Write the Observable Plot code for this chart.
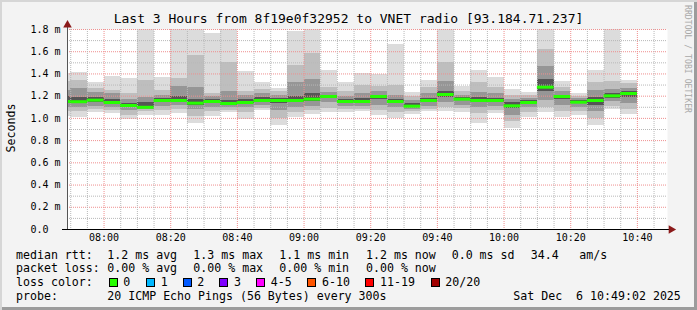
<!DOCTYPE html>
<html><head><meta charset="utf-8">
<script src="https://cdn.jsdelivr.net/npm/d3@7"></script>
<script src="https://cdn.jsdelivr.net/npm/@observablehq/plot@0.6"></script>
<style>
html,body{margin:0;padding:0;background:#f3f3f3;}
#wrap{position:relative;width:697px;height:310px;background:#f3f3f3;overflow:hidden;
  box-shadow: inset 2px 2px 0 #d6d6d6, inset -3px -3px 0 #9c9c9c;
  font-family:"DejaVu Sans Mono",monospace;color:#000;}
.t{position:absolute;white-space:pre;font-size:11.6px;line-height:14px;height:14px;}
.box{position:absolute;width:9px;height:9px;box-sizing:border-box;border:1px solid #000;}
#chart{position:absolute;left:0;top:0;}
</style></head>
<body><div id="wrap"><div id="chart"></div></div>
<script>
// ---------- data ----------
const titleText = "Last 3 Hours from 8f19e0f32952 to VNET radio [93.184.71.237]";
const yAxisTitle = "Seconds";
const watermark = "RRDTOOL / TOBI OETIKER";
const windowStart = "07:49:02";
const windowEnd = "10:49:02";
const barStart = ["07:45","07:50","07:55","08:00","08:05","08:10","08:15","08:20","08:25","08:30","08:35","08:40",
  "08:45","08:50","08:55","09:00","09:05","09:10","09:15","09:20","09:25","09:30","09:35","09:40","09:45","09:50",
  "09:55","10:00","10:05","10:10","10:15","10:20","10:25","10:30","10:35"];
// rtt in ms
const minV = [1.02,1.005,1.056,1.04,0.987,1.026,1.026,1.04,0.957,1.02,1.05,0.993,1.07,0.936,1.01,1.035,1.056,1.056,
  1.06,1.026,0.996,1.035,1.06,1.065,1.056,0.957,1.044,0.912,1.005,1.056,1.01,1.026,0.933,1.077,1.035];
const p10V = [1.06,1.06,1.08,1.07,1.03,1.06,1.07,1.08,1.02,1.06,1.07,1.05,1.09,1.00,1.05,1.07,1.09,1.08,
  1.08,1.07,1.05,1.06,1.08,1.10,1.09,1.04,1.07,0.97,1.05,1.10,1.06,1.06,1.00,1.11,1.08];
const p25V = [1.10,1.10,1.11,1.10,1.07,1.08,1.11,1.12,1.08,1.10,1.10,1.10,1.12,1.07,1.10,1.11,1.14,1.11,
  1.11,1.12,1.10,1.08,1.11,1.14,1.12,1.10,1.11,1.03,1.10,1.16,1.12,1.10,1.06,1.15,1.13];
const p40V = [1.13,1.13,1.14,1.125,1.10,1.09,1.14,1.15,1.12,1.13,1.12,1.13,1.145,1.13,1.14,1.15,1.18,1.14,
  1.14,1.17,1.14,1.10,1.14,1.19,1.16,1.14,1.14,1.09,1.13,1.24,1.17,1.13,1.12,1.18,1.19];
const medianV = [1.152,1.15,1.164,1.143,1.116,1.10,1.161,1.161,1.137,1.152,1.134,1.143,1.161,1.161,1.161,1.173,1.197,1.152,
  1.152,1.197,1.152,1.11,1.161,1.215,1.173,1.161,1.161,1.113,1.143,1.281,1.197,1.146,1.161,1.203,1.224];
const p60V = [1.20,1.19,1.19,1.17,1.13,1.14,1.18,1.20,1.17,1.17,1.16,1.17,1.19,1.18,1.20,1.22,1.21,1.17,
  1.18,1.21,1.17,1.13,1.18,1.24,1.19,1.19,1.18,1.14,1.16,1.35,1.21,1.16,1.19,1.22,1.24];
const p75V = [1.25,1.27,1.23,1.22,1.17,1.19,1.21,1.29,1.28,1.20,1.24,1.21,1.22,1.21,1.32,1.35,1.23,1.20,
  1.22,1.24,1.21,1.16,1.22,1.33,1.21,1.23,1.22,1.17,1.18,1.47,1.24,1.18,1.25,1.26,1.27];
const p90V = [1.33,1.34,1.27,1.25,1.22,1.34,1.25,1.36,1.57,1.22,1.50,1.24,1.26,1.24,1.48,1.58,1.28,1.24,
  1.30,1.29,1.30,1.20,1.28,1.50,1.24,1.32,1.28,1.21,1.21,1.62,1.28,1.20,1.32,1.33,1.31];
const maxV = [1.40,1.416,1.32,1.38,1.359,1.8,1.371,1.8,1.8,1.76,1.8,1.422,1.32,1.266,1.785,1.8,1.431,1.32,
  1.40,1.395,1.665,1.236,1.341,1.8,1.29,1.431,1.371,1.26,1.236,1.8,1.332,1.225,1.431,1.8,1.341];

const yTicks = [0,0.2,0.4,0.6,0.8,1.0,1.2,1.4,1.6,1.8];
const yTickLabels = ["0.0","0.2 m","0.4 m","0.6 m","0.8 m","1.0 m","1.2 m","1.4 m","1.6 m","1.8 m"];
const xTickLabels = ["08:00","08:20","08:40","09:00","09:20","09:40","10:00","10:20","10:40"];

const legendHeads = ["median rtt:","packet loss:","loss color:","probe:"];
const rttStats = ["1.2 ms avg","1.3 ms max","1.1 ms min","1.2 ms now","0.0 ms sd","34.4","am/s"];
const lossStats = ["0.00 % avg","0.00 % max","0.00 % min","0.00 % now"];
const lossLabels = ["0","1","2","3","4-5","6-10","11-19","20/20"];
const lossColors = ["#26ff00","#00b8ff","#0059ff","#7e00ff","#ff00ff","#ff5500","#ff0000","#a10000"];
const probeText = "20 ICMP Echo Pings (56 Bytes) every 300s";
const dateText = "Sat Dec  6 10:49:02 2025";

// ---------- helpers ----------
const FONT = "DejaVu Sans Mono";
const toDate = s => { const [h,m,sec] = s.split(":").map(Number); return new Date(Date.UTC(2025,11,6,h,m,sec||0)); };
const STEP = 300000;
const xStart = toDate(windowStart), xEnd = toDate(windowEnd);
const rows = barStart.map((s,i) => ({
  t0: toDate(s), t1: new Date(toDate(s).getTime()+STEP),
  min: minV[i], p10: p10V[i], p25: p25V[i], p40: p40V[i], med: medianV[i],
  p60: p60V[i], p75: p75V[i], p90: p90V[i], max: maxV[i]
}));
const bands = [
  {lo:"min", hi:"max", fill:"#dcdcdc"},
  {lo:"p10", hi:"p90", fill:"#bebebe"},
  {lo:"p25", hi:"p75", fill:"#969696"},
  {lo:"p40", hi:"p60", fill:"#555555"}
];
const xTickDates = xTickLabels.map(toDate);
const minorX = d3.utcMinute.every(5).range(xStart, xEnd).filter(d => d.getUTCMinutes() % 20 !== 0);
const yMinor = d3.range(1, 18, 2).map(k => k/10);
const yMajor = yTicks.filter(v => v > 0);
const min = 60000;

const plot = Plot.plot({
  width: 697, height: 250,
  marginLeft: 67, marginRight: 30, marginTop: 29, marginBottom: 21,
  style: {background: "transparent", fontFamily: FONT, fontSize: "10px", color: "#000"},
  x: {type: "utc", domain: [xStart, xEnd]},
  y: {domain: [0, 1.8]},
  marks: [
    Plot.frame({fill: "white", stroke: null}),
    ...bands.map(b => Plot.rect(rows, {x1: "t0", x2: "t1", y1: b.lo, y2: b.hi, fill: b.fill, inset: 0, clip: true, shapeRendering: "crispEdges"})),
    Plot.ruleY(yMinor, {stroke: "#b8b8b8", strokeDasharray: "1,1"}),
    Plot.ruleY(yMajor, {stroke: "#ef8f8f", strokeDasharray: "1,1"}),
    Plot.ruleX(minorX, {stroke: "#b8b8b8", strokeDasharray: "1,1"}),
    Plot.ruleX(xTickDates, {stroke: "#ef8f8f", strokeDasharray: "1,1"}),
    Plot.ruleY(rows, {y: "med", x1: "t0", x2: "t1", stroke: "#26ff00", strokeWidth: 3, clip: true}),
    Plot.ruleX([xStart], {y1: [0], y2: [1.84], stroke: "#555"}),
    Plot.ruleY([0], {x1: [new Date(xStart - 1.5*min)], x2: [new Date(+xEnd + 0.6*min)], stroke: "#000"}),
    Plot.dot([0], {x: [new Date(+xEnd + 1.1*min)], y: [0], symbol: "triangle", r: 3.2, fill: "#8b1a1a", stroke: null, rotate: 90}),
    Plot.dot([0], {x: [xStart], y: [1.84], symbol: "triangle", r: 3.2, fill: "#8b1a1a", stroke: null}),
    Plot.axisY(yTicks, {tickFormat: d => yTickLabels[yTicks.indexOf(d)], tickSize: 0, tickPadding: 0, textAnchor: "start", dx: -37, fontSize: 10, fontFamily: FONT, fill: "#000", label: null}),
    Plot.axisX(xTickDates, {tickFormat: d => xTickLabels[xTickDates.findIndex(t => +t === +d)], tickSize: 0, tickPadding: 4, fontSize: 10, fontFamily: FONT, fill: "#000", label: null})
  ]
});
document.getElementById("chart").appendChild(plot);

// ---------- text (title, labels, legend) ----------
const wrap = document.getElementById("wrap");
function addText(txt, x, yc, extra) {
  const el = document.createElement("div");
  el.className = "t"; el.textContent = txt;
  el.style.left = x + "px"; el.style.top = (yc - 7) + "px";
  if (extra) Object.assign(el.style, extra);
  wrap.appendChild(el); return el;
}
// title
addText(titleText, 0, 19, {width: "697px", textAlign: "center", fontSize: "13px"});
// y axis title (rotated)
addText(yAxisTitle, 10.5, 128, {transform: "translate(-50%,0) rotate(-90deg)", transformOrigin: "50% 50%"});
// watermark (vertical, fixed length)
const ns = "http://www.w3.org/2000/svg";
const wm = document.createElementNS(ns, "svg");
wm.setAttribute("width", 14); wm.setAttribute("height", 120);
Object.assign(wm.style, {position: "absolute", left: "681px", top: "0px"});
const wt = document.createElementNS(ns, "text");
wt.setAttribute("transform", "translate(4,5) rotate(90)");
wt.setAttribute("textLength", 108);
wt.setAttribute("lengthAdjust", "spacingAndGlyphs");
wt.setAttribute("font-family", FONT);
wt.setAttribute("font-size", 8);
wt.setAttribute("fill", "#a8a8a8");
wt.textContent = watermark;
wm.appendChild(wt); wrap.appendChild(wm);

const rowY = [254.5, 268, 282, 296];
legendHeads.forEach((h,i) => addText(h, 16, rowY[i]));
const rttX = [107.3, 193.3, 279.3, 366, 451.7, 530.7, 579.3];
rttStats.forEach((s,i) => addText(s, rttX[i], rowY[0]));
const lossX = [107.3, 193.3, 279.3, 366];
lossStats.forEach((s,i) => addText(s, lossX[i], rowY[1]));
const boxX = [108.5, 146, 182.7, 219.3, 256, 307.3, 365.3, 430.7];
const labX = [123.3, 160.7, 197.3, 234, 270.7, 322, 380, 445.3];
lossLabels.forEach((l,i) => {
  const b = document.createElement("div");
  b.className = "box"; b.style.left = boxX[i] + "px"; b.style.top = "278px"; b.style.background = lossColors[i];
  wrap.appendChild(b);
  addText(l, labX[i], rowY[2]);
});
addText(probeText, 107.3, rowY[3]);
addText(dateText, 513.3, rowY[3]);
</script>
</body></html>
